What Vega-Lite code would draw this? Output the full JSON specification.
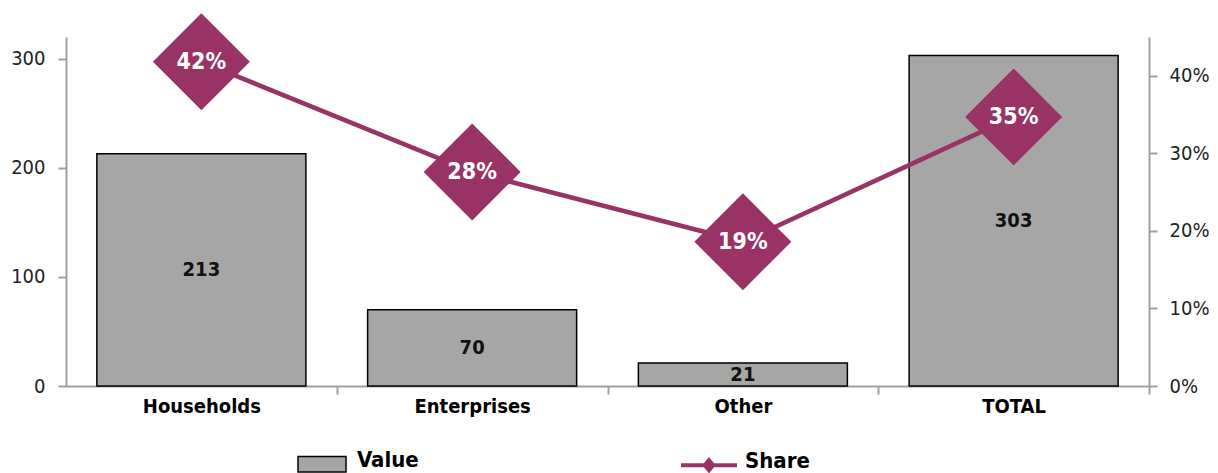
{
  "$schema": "https://vega.github.io/schema/vega-lite/v6.json",
  "width": 1083,
  "height": 349,
  "autosize": {"type": "none"},
  "padding": {"left": 66, "top": 37, "right": 69, "bottom": 87},
  "background": "white",
  "config": {
    "view": {"stroke": null},
    "font": "DejaVu Sans Condensed",
    "axis": {
      "domainColor": "#a0a0a0",
      "domainWidth": 2,
      "tickColor": "#a0a0a0",
      "tickWidth": 2,
      "tickSize": 8,
      "labelColor": "#222222",
      "labelFont": "DejaVu Sans Condensed",
      "labelFontSize": 20,
      "grid": false
    }
  },
  "data": {
    "values": [
      {"cat": "Households", "value": 213, "share": 0.418},
      {"cat": "Enterprises", "value": 70, "share": 0.276},
      {"cat": "Other", "value": 21, "share": 0.186},
      {"cat": "TOTAL", "value": 303, "share": 0.347}
    ]
  },
  "encoding": {
    "x": {
      "field": "cat",
      "type": "nominal",
      "sort": null,
      "title": null,
      "scale": {"paddingInner": 0.228, "paddingOuter": 0.114},
      "axis": {
        "labelAngle": 0,
        "bandPosition": 1,
        "tickOffset": 30.9,
        "labelOffset": -30.9,
        "labelFontWeight": "bold",
        "labelFontSize": 20,
        "labelColor": "black",
        "labelPadding": 2
      }
    }
  },
  "layer": [
    {
      "encoding": {
        "y": {
          "field": "value",
          "type": "quantitative",
          "title": null,
          "scale": {"domain": [0, 320], "nice": false},
          "axis": {"orient": "left", "values": [0, 100, 200, 300], "labelPadding": 13}
        }
      },
      "layer": [
        {
          "mark": {"type": "bar", "stroke": "black", "strokeWidth": 1.5},
          "encoding": {
            "fill": {
              "datum": "Value",
              "type": "nominal",
              "scale": {"range": ["#a6a6a6"]},
              "legend": {
                "orient": "none",
                "legendX": 231,
                "legendY": 398,
                "title": null,
                "padding": 0,
                "symbolType": "M-1,-0.15H1V0.5H-1Z",
                "symbolSize": 2304,
                "symbolStrokeColor": "black",
                "symbolStrokeWidth": 1.5,
                "labelFont": "DejaVu Sans Condensed",
                "labelFontSize": 22,
                "labelFontWeight": "bold",
                "labelColor": "black",
                "labelOffset": 10
              }
            }
          }
        },
        {
          "mark": {"type": "text", "fontWeight": "bold", "fontSize": 20, "color": "#111111"},
          "encoding": {
            "y": {"field": "value", "type": "quantitative", "stack": "zero", "bandPosition": 0.5},
            "text": {"field": "value", "type": "quantitative"}
          }
        }
      ]
    },
    {
      "encoding": {
        "y": {
          "field": "share",
          "type": "quantitative",
          "title": null,
          "scale": {"domain": [0, 0.45], "nice": false},
          "axis": {"orient": "right", "values": [0, 0.1, 0.2, 0.3, 0.4], "format": ".0%", "labelPadding": 12}
        }
      },
      "layer": [
        {
          "mark": {"type": "line", "strokeWidth": 4.5},
          "encoding": {
            "stroke": {
              "datum": "Share",
              "type": "nominal",
              "scale": {"range": ["#993366"]},
              "legend": {
                "orient": "none",
                "legendX": 613,
                "legendY": 394,
                "title": null,
                "padding": 0,
                "symbolType": "M-1,0.15H1M0,-0.03L0.15,0.15L0,0.33L-0.15,0.15Z",
                "symbolSize": 3136,
                "symbolStrokeWidth": 4,
                "labelFont": "DejaVu Sans Condensed",
                "labelFontSize": 22,
                "labelFontWeight": "bold",
                "labelColor": "black",
                "labelOffset": 6
              }
            }
          }
        },
        {
          "mark": {"type": "point", "shape": "diamond", "size": 9400, "filled": true, "color": "#993366", "opacity": 1}
        },
        {
          "mark": {"type": "text", "color": "white", "fontWeight": "bold", "fontSize": 23},
          "encoding": {"text": {"field": "share", "type": "quantitative", "format": ".0%"}}
        }
      ]
    }
  ],
  "resolve": {"scale": {"y": "independent"}}
}
